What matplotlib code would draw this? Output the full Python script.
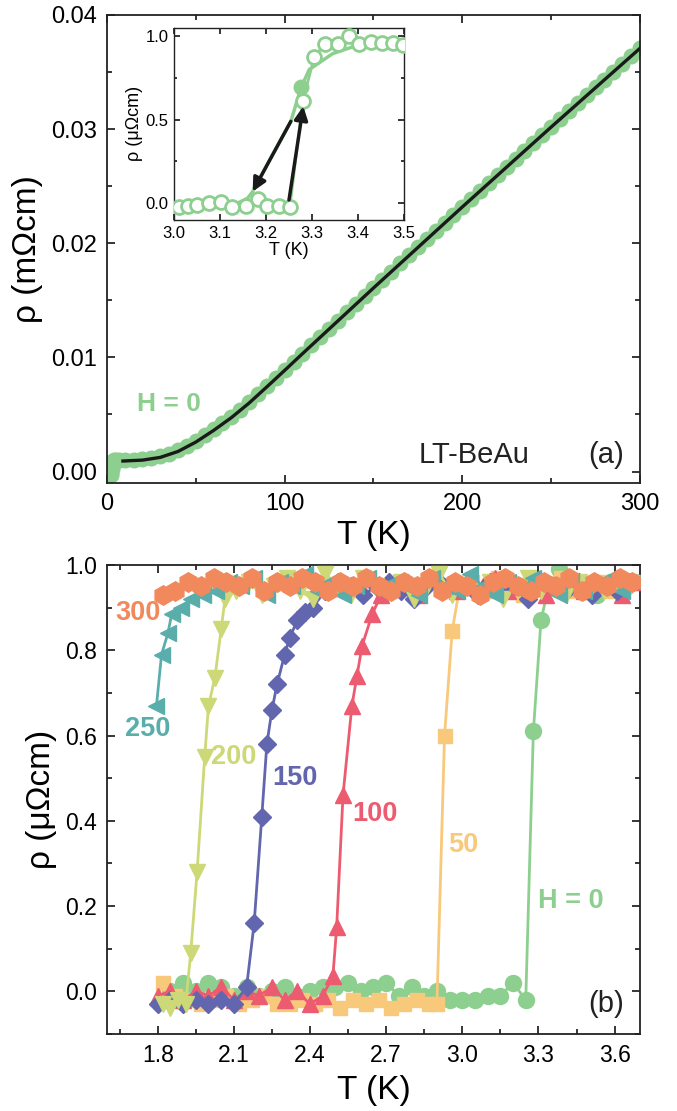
import matplotlib
matplotlib.use("Agg")
import matplotlib.pyplot as plt
from matplotlib.ticker import MultipleLocator, FormatStrFormatter

plt.rcParams['font.family'] = ['Liberation Sans', 'DejaVu Sans']

# ---------------- panel (a) data ----------------
T_a = [2.0, 2.5, 3.0, 3.3, 3.6, 4.0, 5.0, 7.0,
       10, 15, 20, 25, 30, 35, 40, 45, 50, 55,
       60, 65, 70, 75, 80, 85, 90, 95, 100, 105,
       110, 115, 120, 125, 130, 135, 140, 145, 150, 155,
       160, 165, 170, 175, 180, 185, 190, 195, 200, 205,
       210, 215, 220, 225, 230, 235, 240, 245, 250, 255,
       260, 265, 270, 275, 280, 285, 290, 295, 300]
rho_a = [-0.0003, -0.0001, 0.0002, 0.0006, 0.0009, 0.0010, 0.0010, 0.0010,
         0.00100, 0.00104, 0.00110, 0.00120, 0.00135, 0.00158, 0.00190, 0.00228, 0.00270, 0.00318,
         0.00370, 0.00422, 0.00480, 0.00542, 0.00608, 0.00678, 0.00750, 0.00820, 0.00890, 0.00962,
         0.01034, 0.01106, 0.01178, 0.01250, 0.01322, 0.01394, 0.01466, 0.01538, 0.01610, 0.01681,
         0.01752, 0.01823, 0.01894, 0.01965, 0.02036, 0.02107, 0.02178, 0.02249, 0.02320, 0.02390,
         0.02460, 0.02530, 0.02600, 0.02670, 0.02740, 0.02810, 0.02880, 0.02950, 0.03020, 0.03089,
         0.03158, 0.03227, 0.03296, 0.03365, 0.03434, 0.03503, 0.03572, 0.03641, 0.03710]
T_fit = [9, 20, 30, 40, 50, 60, 70, 80, 90, 100, 110, 120, 130, 140, 150,
         160, 170, 180, 190, 200, 210, 220, 230, 240, 250, 260, 270, 280, 290, 300]
rho_fit = [0.00092, 0.00100, 0.00124, 0.00176, 0.00258, 0.00360, 0.00472, 0.00600, 0.00742, 0.00886,
           0.01032, 0.01176, 0.01320, 0.01464, 0.01608, 0.01750, 0.01892, 0.02034, 0.02176, 0.02318,
           0.02458, 0.02598, 0.02738, 0.02878, 0.03018, 0.03156, 0.03294, 0.03432, 0.03570, 0.03708]

# inset data
Ti_open = [3.01, 3.03, 3.05, 3.077, 3.102, 3.127, 3.156, 3.182, 3.203, 3.229, 3.252,
           3.28, 3.305, 3.329, 3.356, 3.381, 3.403, 3.428, 3.453, 3.475, 3.497]
ri_open = [-0.02, -0.015, -0.01, 0.0, 0.01, -0.025, -0.015, 0.024, -0.015, -0.015, -0.02,
           0.61, 0.875, 0.955, 0.955, 1.00, 0.955, 0.965, 0.958, 0.958, 0.945]
Ti_curve = [3.00, 3.05, 3.10, 3.13, 3.16, 3.171, 3.21, 3.254, 3.276, 3.294, 3.345, 3.388, 3.42, 3.46, 3.50]
ri_curve = [-0.02, -0.02, -0.015, -0.01, 0.03, 0.07, 0.27, 0.49, 0.69, 0.80, 0.895, 0.935, 0.955, 0.955, 0.955]
Ti_fill = [3.276]
ri_fill = [0.697]

# ---------------- panel (b) data ----------------
T0 = [1.85, 1.90, 1.95, 2.00, 2.05, 2.10, 2.15, 2.20, 2.25, 2.30,
      2.35, 2.40, 2.45, 2.50, 2.55, 2.60, 2.65, 2.70, 2.75, 2.80,
      2.85, 2.90, 2.95, 3.00, 3.05, 3.10, 3.15, 3.20, 3.25,
      3.28, 3.31, 3.34,
      3.38, 3.43, 3.48, 3.53, 3.58, 3.63, 3.68]
r0 = [0.00, 0.02, 0.00, 0.02, 0.01, -0.01, 0.01, -0.01, 0.00, 0.01,
      -0.01, 0.00, 0.01, 0.01, 0.02, 0.00, 0.01, 0.02, -0.01, 0.01,
      -0.01, 0.00, -0.02, -0.02, -0.02, -0.01, -0.01, 0.02, -0.02,
      0.61, 0.87, 0.95,
      0.99, 0.96, 0.94, 0.93, 0.96, 0.95, 0.96]

T50 = [1.82, 1.87, 1.92, 1.97, 2.02, 2.07, 2.12, 2.17, 2.22, 2.27,
       2.32, 2.37, 2.42, 2.47, 2.52, 2.57, 2.62, 2.67, 2.72, 2.77,
       2.82, 2.87, 2.90, 2.93, 2.96, 2.99,
       3.04, 3.09, 3.14, 3.19, 3.24, 3.29, 3.34, 3.39, 3.44, 3.49,
       3.54, 3.59, 3.64, 3.69]
r50 = [0.02, -0.01, -0.02, -0.03, -0.02, -0.01, -0.03, -0.02, -0.01, -0.03,
       -0.03, -0.02, -0.03, -0.02, -0.04, -0.02, -0.03, -0.02, -0.04, -0.03,
       -0.02, -0.03, -0.03, 0.60, 0.845, 0.95,
       0.96, 0.94, 0.97, 0.95, 0.93, 0.96, 0.95, 0.97, 0.94, 0.95,
       0.96, 0.94, 0.95, 0.96]

T100 = [1.80, 1.85, 1.90, 1.95, 2.00, 2.05, 2.10, 2.15, 2.20, 2.25,
        2.30, 2.35, 2.40, 2.45, 2.49, 2.505, 2.53, 2.565, 2.585, 2.605, 2.645, 2.68,
        2.73, 2.78, 2.83, 2.88, 2.93, 2.98, 3.03, 3.08, 3.13, 3.18,
        3.23, 3.28, 3.33, 3.38, 3.43, 3.48, 3.53, 3.58, 3.63, 3.68]
r100 = [-0.01, 0.00, -0.02, 0.00, -0.01, 0.01, -0.02, 0.00, -0.01, 0.01,
        -0.02, 0.00, -0.03, -0.01, 0.035, 0.15, 0.46, 0.67, 0.74, 0.81, 0.885, 0.93,
        0.95, 0.96, 0.93, 0.97, 0.95, 0.94, 0.96, 0.95, 0.97, 0.94,
        0.95, 0.96, 0.93, 0.95, 0.97, 0.94, 0.96, 0.95, 0.93, 0.96]

T150 = [1.80, 1.85, 1.90, 1.95, 2.00, 2.05, 2.10, 2.15,
        2.18, 2.21, 2.23, 2.25, 2.27, 2.30, 2.32, 2.35, 2.38, 2.41,
        2.46, 2.51, 2.56, 2.61, 2.66, 2.71, 2.76, 2.81, 2.86, 2.91,
        2.96, 3.01, 3.06, 3.11, 3.16, 3.21, 3.26, 3.31, 3.36, 3.41,
        3.46, 3.51, 3.56, 3.61, 3.66]
r150 = [-0.03, -0.02, -0.03, -0.02, -0.03, -0.02, -0.03, 0.01,
        0.16, 0.41, 0.58, 0.66, 0.72, 0.79, 0.83, 0.87, 0.89, 0.90,
        0.94, 0.96, 0.95, 0.93, 0.95, 0.96, 0.94, 0.92, 0.95, 0.96,
        0.94, 0.95, 0.93, 0.96, 0.94, 0.95, 0.92, 0.96, 0.95, 0.94,
        0.96, 0.93, 0.95, 0.94, 0.96]

T200 = [1.82, 1.85, 1.88, 1.91, 1.93, 1.955, 1.985, 2.00, 2.025, 2.05, 2.065,
        2.11, 2.16, 2.21, 2.26, 2.31, 2.36, 2.41, 2.46, 2.51, 2.56,
        2.61, 2.66, 2.71, 2.76, 2.81, 2.86, 2.91, 2.96, 3.01, 3.06,
        3.11, 3.16, 3.21, 3.26, 3.31, 3.36, 3.41, 3.46, 3.51, 3.56,
        3.61, 3.66]
r200 = [-0.03, -0.04, -0.02, -0.03, 0.09, 0.28, 0.55, 0.67, 0.735, 0.85, 0.92,
        0.94, 0.96, 0.93, 0.95, 0.97, 0.94, 0.92, 0.98, 0.95, 0.93,
        0.97, 0.95, 0.94, 0.96, 0.92, 0.95, 0.98, 0.93, 0.95, 0.94,
        0.96, 0.92, 0.95, 0.97, 0.94, 0.95, 0.93, 0.96, 0.95, 0.94,
        0.96, 0.95]

T250 = [1.795, 1.815, 1.84, 1.855, 1.89, 1.93, 1.98,
        2.03, 2.08, 2.13, 2.18, 2.23, 2.28, 2.33, 2.38, 2.43, 2.48,
        2.53, 2.58, 2.63, 2.68, 2.73, 2.78, 2.83, 2.88, 2.93, 2.98,
        3.03, 3.08, 3.13, 3.18, 3.23, 3.28, 3.33, 3.38, 3.43, 3.48,
        3.53, 3.58, 3.63, 3.68]
r250 = [0.67, 0.79, 0.84, 0.885, 0.90, 0.92, 0.93,
        0.94, 0.96, 0.95, 0.97, 0.93, 0.96, 0.95, 0.98, 0.94, 0.96,
        0.93, 0.95, 0.97, 0.94, 0.96, 0.95, 0.93, 0.97, 0.95, 0.94,
        0.98, 0.95, 0.93, 0.96, 0.94, 0.97, 0.95, 0.93, 0.96, 0.94,
        0.95, 0.97, 0.94, 0.96]

T300 = [1.82, 1.87, 1.92, 1.97, 2.02, 2.07, 2.12, 2.17, 2.22, 2.27,
        2.32, 2.37, 2.42, 2.47, 2.52, 2.57, 2.62, 2.67, 2.72, 2.77,
        2.82, 2.87, 2.92, 2.97, 3.02, 3.07, 3.12, 3.17, 3.22, 3.27,
        3.32, 3.37, 3.42, 3.47, 3.52, 3.57, 3.62, 3.67]
r300 = [0.93, 0.94, 0.96, 0.95, 0.97, 0.96, 0.95, 0.97, 0.94, 0.96,
        0.95, 0.97, 0.96, 0.94, 0.96, 0.95, 0.97, 0.95, 0.94, 0.96,
        0.95, 0.97, 0.94, 0.96, 0.95, 0.93, 0.96, 0.97, 0.95, 0.94,
        0.96, 0.95, 0.97, 0.94, 0.96, 0.95, 0.97, 0.96]

field_labels = ['H = 0', '50', '100', '150', '200', '250', '300']

C_GREEN = '#8dcf8e'
C_50 = '#f8c87b'
C_100 = '#ec5b6f'
C_150 = '#6166ae'
C_200 = '#cdd877'
C_250 = '#59aeab'
C_300 = '#f1895c'

fig = plt.figure(figsize=(6.77, 11.11), dpi=100)
ax1 = fig.add_axes([0.158, 0.5653, 0.7873, 0.4212])
ax2 = fig.add_axes([0.158, 0.0693, 0.7873, 0.4221])
axin = fig.add_axes([174/677, 1 - 220/1111, 230/677, 192.3/1111])

def style(ax, size, major=6, minor=3.5, pad=7):
    ax.tick_params(which='both', direction='in', top=True, right=True, width=1.1)
    ax.tick_params(which='major', length=major, labelsize=size, pad=pad)
    ax.tick_params(which='minor', length=minor)
    for s in ax.spines.values():
        s.set_linewidth(1.3)
        s.set_color('#222222')

# ---- panel (a)
ax1.plot(T_a, rho_a, 'o', color=C_GREEN, ms=10.5, mec=C_GREEN, zorder=2)
ax1.plot(T_fit, rho_fit, '-', color='#1a1a1a', lw=2.4, zorder=3)
ax1.set_xlim(0, 300)
ax1.set_ylim(-0.001, 0.04)
ax1.xaxis.set_major_locator(MultipleLocator(100))
ax1.xaxis.set_minor_locator(MultipleLocator(50))
ax1.yaxis.set_major_locator(MultipleLocator(0.01))
ax1.yaxis.set_minor_locator(MultipleLocator(0.005))
ax1.yaxis.set_major_formatter(FormatStrFormatter('%.2f'))
style(ax1, 17)
ax1.set_xlabel('T (K)', fontsize=24, labelpad=4)
ax1.set_ylabel('ρ (mΩcm)', fontsize=24, labelpad=6)
ax1.text(17, 0.0059, 'H = 0', color=C_GREEN, fontsize=19, fontweight='bold', va='center', ha='left')
ax1.text(0.585, 0.03, 'LT-BeAu', transform=ax1.transAxes, fontsize=21, ha='left', va='bottom', color='#222222')
ax1.text(0.97, 0.03, '(a)', transform=ax1.transAxes, fontsize=21, ha='right', va='bottom', color='#222222')

# ---- inset
axin.plot(Ti_curve, ri_curve, '-', color=C_GREEN, lw=2.5, zorder=2)
axin.plot(Ti_open, ri_open, '-o', color=C_GREEN, lw=2.0, ms=10, mfc='white', mec=C_GREEN, mew=2.0, zorder=3)
axin.plot(Ti_fill, ri_fill, 'o', color=C_GREEN, ms=10.5, zorder=4)
axin.annotate('', xy=(3.171, 0.07), xytext=(3.254, 0.49),
              arrowprops=dict(arrowstyle='-|>', color='#1a1a1a', lw=2.5, mutation_scale=20, shrinkA=0, shrinkB=0), zorder=5)
axin.annotate('', xy=(3.281, 0.58), xytext=(3.25, 0.02),
              arrowprops=dict(arrowstyle='-|>', color='#1a1a1a', lw=2.5, mutation_scale=20, shrinkA=0, shrinkB=0), zorder=5)
axin.set_xlim(3.0, 3.5)
axin.set_ylim(-0.1, 1.05)
axin.xaxis.set_major_locator(MultipleLocator(0.1))
axin.yaxis.set_major_locator(MultipleLocator(0.5))
axin.yaxis.set_minor_locator(MultipleLocator(0.25))
axin.xaxis.set_major_formatter(FormatStrFormatter('%.1f'))
axin.yaxis.set_major_formatter(FormatStrFormatter('%.1f'))
style(axin, 12, major=4, minor=2.5, pad=4)
for s in axin.spines.values():
    s.set_linewidth(1.0)
axin.set_xlabel('T (K)', fontsize=13, labelpad=1)
axin.set_ylabel('ρ (μΩcm)', fontsize=13, labelpad=2)

# ---- panel (b)
series = [
    (T0, r0, 'o', C_GREEN, 11.5),
    (T50, r50, 's', C_50, 10),
    (T100, r100, '^', C_100, 12),
    (T150, r150, 'D', C_150, 9),
    (T200, r200, 'v', C_200, 12),
    (T250, r250, '<', C_250, 12),
    (T300, r300, 'h', C_300, 14),
]
for i, (T, r, m, c, ms) in enumerate(series):
    ax2.plot(T, r, '-', marker=m, color=c, mec=c, mfc=c, ms=ms, lw=2.0, zorder=2 + i)

ax2.set_xlim(1.6, 3.7)
ax2.set_ylim(-0.1, 1.0)
ax2.xaxis.set_major_locator(MultipleLocator(0.3))
ax2.xaxis.set_minor_locator(MultipleLocator(0.15))
ax2.yaxis.set_major_locator(MultipleLocator(0.2))
ax2.yaxis.set_minor_locator(MultipleLocator(0.1))
ax2.xaxis.set_major_formatter(FormatStrFormatter('%.1f'))
ax2.yaxis.set_major_formatter(FormatStrFormatter('%.1f'))
style(ax2, 16.5)
ax2.set_xlabel('T (K)', fontsize=24, labelpad=6)
ax2.set_ylabel('ρ (μΩcm)', fontsize=24, labelpad=6)

lab_pos = [(3.428, 0.213, C_GREEN), (3.003, 0.344, C_50), (2.656, 0.415, C_100),
           (2.34, 0.50, C_150), (2.10, 0.55, C_200), (1.76, 0.616, C_250), (1.724, 0.888, C_300)]
for txt, (x, y, c) in zip(field_labels, lab_pos):
    ax2.text(x, y, txt, color=c, fontsize=19.5, fontweight='bold', ha='center', va='center', zorder=20)
ax2.text(0.97, 0.035, '(b)', transform=ax2.transAxes, fontsize=21, ha='right', va='bottom', color='#222222')

fig.savefig('out.png', dpi=100)
